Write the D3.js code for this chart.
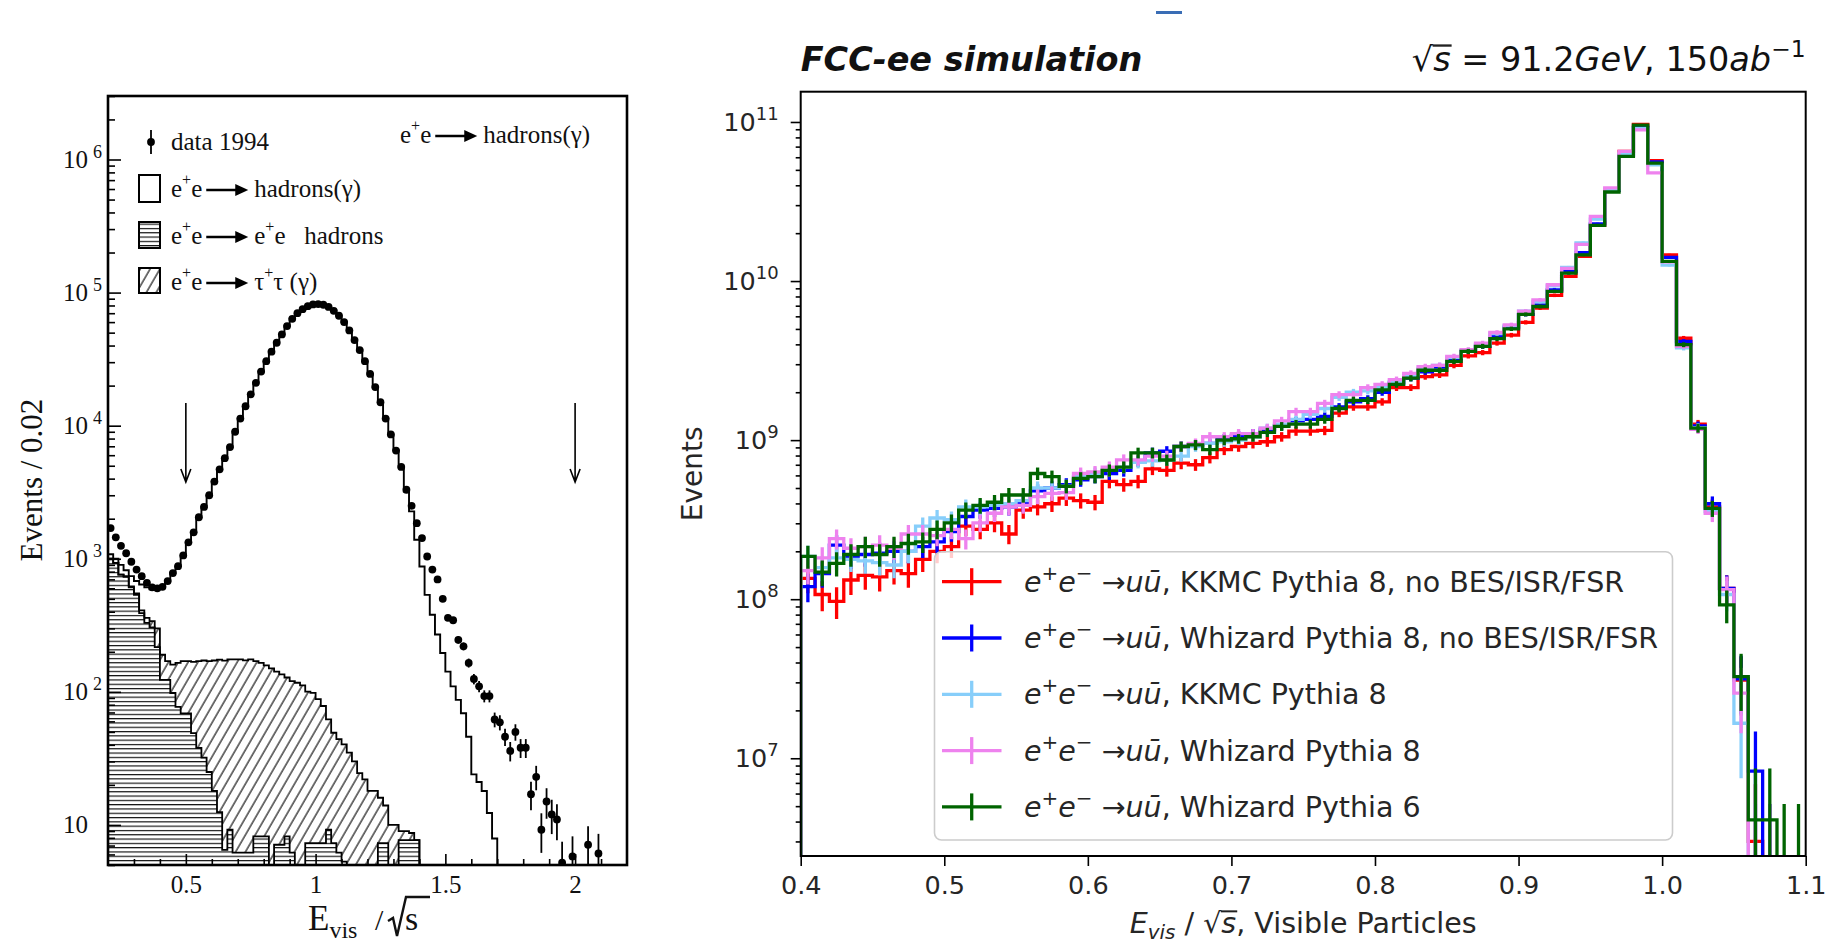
<!DOCTYPE html>
<html>
<head>
<meta charset="utf-8">
<script src="https://cdn.jsdelivr.net/npm/d3@7"></script>
<style>
  body { margin: 0; background: #fff; }
  svg { display: block; }
  svg text { white-space: pre; }
  .serif text, text.serif { font-family: "Liberation Serif", "DejaVu Serif", serif; }
  .sans text, text.sans { font-family: "DejaVu Sans", sans-serif; }
</style>
</head>
<body>
<svg id="chart" width="1837" height="947"></svg>
<script>
// ---------- left panel: e+e- -> hadrons, data 1994 (bins of 0.02 from 0.20) ----------
const LEFT_BIN_START = 0.2;
const LEFT_BIN_W = 0.02;

const data1994 = [1700, 1450, 1250, 1100, 950, 830, 740, 660, 610, 600,
  615, 680, 780, 880, 1060, 1330, 1580, 2050, 2450, 3000,
  3800, 4700, 5700, 6900, 9000, 11300, 14000, 17200, 21000, 25500,
  30500, 36000, 42000, 48500, 56000, 63500, 70000, 75000, 79000, 81500,
  82000, 81000, 78000, 73000, 67000, 60000, 52000, 44000, 37000, 30500,
  24500, 19500, 15000, 11300, 8600, 6500, 4900, 3300, 2500, 1850,
  1430, 1040, 830, 700, 500, 360, 345, 246, 220, 165,
  125, 110, 93, 93, 62, 59, 46, 36, 50, 38,
  38, 17, 23, 9.2, 15, 12, 11, 5.2, null, 5.8,
  null, null, 7.1, null, 6.1];

const mcHadrons = [1080, 1000, 900, 820, 740, 680, 640, 610, 590, 590,
  610, 680, 780, 880, 1060, 1330, 1580, 2050, 2450, 3000,
  3800, 4700, 5700, 6900, 9000, 11300, 14000, 17200, 21000, 25500,
  30500, 36000, 42000, 48500, 56000, 63500, 70000, 75000, 79000, 81500,
  82000, 81000, 78000, 73000, 67000, 60000, 52000, 44000, 37000, 30500,
  24500, 19500, 15000, 11300, 8600, 6500, 4900, 3200, 2270, 1390,
  875, 535, 380, 270, 196, 142, 110, 87, 69, 46,
  24, 21, 18, 12.3, 7.9];

const mcTwoPhoton = [1000, 930, 760, 730, 610, 535, 390, 330, 305, 217,
  123, 123, 98, 77, 69, 69, 49, 38, 32, 25,
  18, 12.5, 6.5, 9.2, 6.2, 6.2, 6.2, 6.2, 8.2, 8.2,
  8.2, 0, 7.1, 7.1, 8.2, 6.2, 0, 0, 7.3, 7.3,
  7.3, 7.3, 9.2, 7.3, 6.2, 5.3, 0, 0, 0, 0,
  0, 0, 7.3, 7.3, 0, 0, 7.7, 7.7, 7.7, 7.7];

const mcTauTau = [0, 0, 0, 10, 10, 15, 20, 30, 35, 83,
  67, 47, 62, 88, 101, 101, 119, 132, 140, 145,
  154, 162, 165, 166, 169, 169, 166, 169, 162, 157,
  150, 150, 135, 128, 120, 114, 117, 112, 93, 91,
  81, 71, 53, 42, 38, 35, 35, 30, 24.5, 22,
  18, 18, 8.7, 6.7, 10, 10, 1.3, 1.3, 1, 0];

const cutPositions = [0.5, 2.0];
const leftXMajor = [0.5, 1, 1.5, 2];
const leftYMajor = [10, 1e2, 1e3, 1e4, 1e5, 1e6];

// ---------- right panel: FCC-ee simulation (bins of 0.01 from 0.40) ----------
const RIGHT_BIN_START = 0.4;
const RIGHT_BIN_W = 0.01;
const MC_EVENT_WEIGHT = 5e6;

const kkmcNoIsr = [1.35e8, 1.07e8, 9.7e7, 1.32e8, 1.41e8, 1.38e8, 1.51e8, 1.45e8, 1.78e8, 2.0e8,
  2.14e8, 2.88e8, 2.75e8, 3.02e8, 2.57e8, 3.63e8, 3.8e8, 3.98e8, 4.32e8, 4.17e8,
  4.07e8, 5.5e8, 5.25e8, 5.5e8, 6.6e8, 6.46e8, 7.16e8, 7.0e8, 7.76e8, 8.71e8,
  9.12e8, 9.55e8, 9.77e8, 1.05e9, 1.14e9, 1.14e9, 1.15e9, 1.48e9, 1.62e9, 1.62e9,
  1.74e9, 2.14e9, 2.14e9, 2.51e9, 2.57e9, 2.95e9, 3.39e9, 3.55e9, 4.07e9, 4.57e9,
  5.5e9, 6.76e9, 8.13e9, 1.07e10, 1.43e10, 2.24e10, 3.72e10, 6.53e10, 9.66e10, 5.71e10,
  1.46e10, 4.37e9, 1.26e9, 3.8e8, 1.17e8, 3.1e7, 3.0e6, 0, 0, 0];

const whizardNoIsr = [1.2e8, 1.45e8, 2.19e8, 1.86e8, 1.91e8, 1.95e8, 2.0e8, 2.0e8, 2.14e8, 2.29e8,
  2.66e8, 3.31e8, 3.63e8, 3.72e8, 3.8e8, 3.98e8, 4.79e8, 5.0e8, 5.25e8, 5.62e8,
  5.89e8, 6.17e8, 6.46e8, 7.41e8, 8.32e8, 8.51e8, 9.12e8, 9.33e8, 9.55e8, 1.02e9,
  1.07e9, 1.1e9, 1.16e9, 1.23e9, 1.32e9, 1.35e9, 1.41e9, 1.62e9, 1.74e9, 1.82e9,
  2.0e9, 2.29e9, 2.45e9, 2.69e9, 2.88e9, 3.24e9, 3.63e9, 3.89e9, 4.47e9, 5.13e9,
  6.17e9, 7.08e9, 8.81e9, 1.15e10, 1.51e10, 2.29e10, 3.72e10, 6.17e10, 9.23e10, 5.62e10,
  1.41e10, 4.17e9, 1.23e9, 3.98e8, 1.17e8, 3.16e7, 8.3e6, 2.0e6, 0, 0];

const kkmcP8 = [1.86e8, 1.58e8, 1.82e8, 1.78e8, 1.74e8, 1.7e8, 1.64e8, 2.0e8, 2.88e8, 3.24e8,
  3.16e8, 3.8e8, 3.8e8, 3.89e8, 3.98e8, 4.17e8, 5.0e8, 5.0e8, 5.13e8, 5.89e8,
  6.17e8, 6.46e8, 6.76e8, 7.24e8, 7.41e8, 7.5e8, 7.94e8, 9.12e8, 9.55e8, 9.77e8,
  1.0e9, 1.05e9, 1.19e9, 1.26e9, 1.35e9, 1.45e9, 1.58e9, 1.86e9, 2.0e9, 2.04e9,
  2.14e9, 2.34e9, 2.57e9, 2.82e9, 2.95e9, 3.31e9, 3.67e9, 3.98e9, 4.68e9, 5.25e9,
  6.46e9, 7.41e9, 9.33e9, 1.22e10, 1.74e10, 2.45e10, 3.76e10, 6.31e10, 9.12e10, 5.37e10,
  1.26e10, 3.8e9, 1.2e9, 3.55e8, 1.07e8, 1.66e7, 2.0e6, 0, 0, 0];

const whizardP8 = [1.51e8, 1.82e8, 2.4e8, 2.09e8, 2.14e8, 2.19e8, 2.09e8, 2.57e8, 2.57e8, 2.51e8,
  2.75e8, 2.4e8, 3.02e8, 3.47e8, 3.8e8, 3.89e8, 4.42e8, 4.63e8, 4.68e8, 6.17e8,
  6.31e8, 6.76e8, 7.52e8, 7.52e8, 7.94e8, 7.94e8, 9.12e8, 9.55e8, 1.05e9, 1.05e9,
  1.1e9, 1.1e9, 1.19e9, 1.32e9, 1.51e9, 1.51e9, 1.7e9, 1.93e9, 1.93e9, 2.14e9,
  2.24e9, 2.4e9, 2.63e9, 2.9e9, 2.95e9, 3.36e9, 3.7e9, 4.07e9, 4.75e9, 5.31e9,
  6.46e9, 7.62e9, 9.48e9, 1.2e10, 1.7e10, 2.55e10, 3.85e10, 6.53e10, 8.91e10, 4.79e10,
  1.32e10, 3.89e9, 1.17e9, 3.47e8, 1.15e8, 2.57e7, 2.0e6, 2.0e6, 0, 0];

const whizardP6 = [1.86e8, 1.48e8, 1.68e8, 1.91e8, 2.14e8, 1.91e8, 2.14e8, 2.24e8, 2.29e8, 2.75e8,
  3.02e8, 3.63e8, 3.89e8, 4.07e8, 4.52e8, 4.52e8, 6.17e8, 5.89e8, 5.13e8, 5.75e8,
  5.89e8, 6.46e8, 6.76e8, 8.32e8, 8.32e8, 7.5e8, 9.12e8, 9.33e8, 8.71e8, 1.0e9,
  1.02e9, 1.05e9, 1.12e9, 1.22e9, 1.26e9, 1.26e9, 1.35e9, 1.58e9, 1.78e9, 1.78e9,
  2.07e9, 2.24e9, 2.45e9, 2.75e9, 2.75e9, 3.13e9, 3.61e9, 3.89e9, 4.34e9, 5.01e9,
  6.17e9, 6.92e9, 8.61e9, 1.12e10, 1.46e10, 2.24e10, 3.63e10, 6.08e10, 9.55e10, 5.52e10,
  1.33e10, 3.98e9, 1.19e9, 3.72e8, 9.2e7, 3.26e7, 4.1e6, 4.1e6, 2.0e6, 2.0e6];

const rightSeries = [kkmcNoIsr, whizardNoIsr, kkmcP8, whizardP8, whizardP6];
const seriesColors = ["#ff0000", "#0000ff", "#87cefa", "#ee82ee", "#006400"];
const seriesLabels = [", KKMC Pythia 8, no BES/ISR/FSR", ", Whizard Pythia 8, no BES/ISR/FSR",
  ", KKMC Pythia 8", ", Whizard Pythia 8", ", Whizard Pythia 6"];
const rightXTicks = [0.4, 0.5, 0.6, 0.7, 0.8, 0.9, 1.0, 1.1];
const rightYMajor = [1e7, 1e8, 1e9, 1e10, 1e11];

// ---------- helpers ----------
const svg = d3.select("#chart");
const defs = svg.append("defs");

defs.append("pattern").attr("id", "hatchH").attr("patternUnits", "userSpaceOnUse")
  .attr("width", 10).attr("height", 4.3)
  .append("line").attr("x1", 0).attr("x2", 10).attr("y1", 0.6).attr("y2", 0.6)
  .attr("stroke", "#000").attr("stroke-width", 1.1);
defs.append("pattern").attr("id", "hatchD").attr("patternUnits", "userSpaceOnUse")
  .attr("width", 8.5).attr("height", 10).attr("patternTransform", "rotate(30)")
  .append("line").attr("x1", 1).attr("x2", 1).attr("y1", 0).attr("y2", 10)
  .attr("stroke", "#000").attr("stroke-width", 1.1);

const stepPoints = (values, start, width, x, y, floor) => {
  const pts = [[x(start), floor]];
  values.forEach((v, i) => {
    const yy = v > 0 ? Math.min(y(v), floor) : floor;
    pts.push([x(start + i * width), yy], [x(start + (i + 1) * width), yy]);
  });
  pts.push([x(start + values.length * width), floor]);
  return pts;
};
const line = d3.line();

function richText(sel, parts, fs) {
  let shift = 0;
  parts.forEach(p => {
    const target = p.sup ? -0.42 * fs : p.sub ? 0.22 * fs : 0;
    sel.append("tspan")
      .attr("dy", target - shift)
      .attr("font-size", (p.sup || p.sub) ? fs * 0.7 : fs)
      .attr("font-style", p.it ? "italic" : "normal")
      .text(p.t);
    shift = target;
  });
}
// overline above the char following a radical sign
function radicalBar(textSel, parent, fs) {
  const node = textSel.node();
  const str = node.textContent;
  const i = str.indexOf("√");
  const a = node.getStartPositionOfChar(i + 1);
  const b = node.getEndPositionOfChar(i + 1);
  const base = node.getStartPositionOfChar(i).y;
  parent.append("line")
    .attr("x1", a.x - 0.5).attr("x2", b.x + 1)
    .attr("y1", base - 0.76 * fs).attr("y2", base - 0.76 * fs)
    .attr("stroke", "#222").attr("stroke-width", fs * 0.07);
}

// ---------- left panel ----------
const L = {x0: 108, x1: 627, y0: 96, y1: 865};
const xL = d3.scaleLinear([0.2, 2.2], [L.x0, L.x1]);
const yL = d3.scaleLog([5, 3e6], [L.y1, L.y0]);
const gL = svg.append("g").attr("class", "serif");

defs.append("clipPath").attr("id", "clipL").append("rect")
  .attr("x", L.x0).attr("y", L.y0).attr("width", L.x1 - L.x0).attr("height", L.y1 - L.y0);
const plotL = gL.append("g").attr("clip-path", "url(#clipL)");
const floorL = L.y1 + 5;

const stacked = mcTwoPhoton.map((v, i) => v + mcTauTau[i]);
const twoTop = stepPoints(mcTwoPhoton, LEFT_BIN_START, LEFT_BIN_W, xL, yL, floorL);
const stackTop = stepPoints(stacked, LEFT_BIN_START, LEFT_BIN_W, xL, yL, floorL);

plotL.append("path").attr("d", line(twoTop) + "Z").attr("fill", "url(#hatchH)");
plotL.append("path").attr("d", line(stackTop.concat(twoTop.slice().reverse())) + "Z")
  .attr("fill", "url(#hatchD)");
plotL.append("path").attr("d", line(twoTop)).attr("fill", "none").attr("stroke", "#000").attr("stroke-width", 1.8);
plotL.append("path").attr("d", line(stackTop)).attr("fill", "none").attr("stroke", "#000").attr("stroke-width", 1.8);
plotL.append("path").attr("d", line(stepPoints(mcHadrons, LEFT_BIN_START, LEFT_BIN_W, xL, yL, floorL)))
  .attr("fill", "none").attr("stroke", "#000").attr("stroke-width", 1.9);

const pts = data1994.map((v, i) => ({x: LEFT_BIN_START + (i + 0.5) * LEFT_BIN_W, v})).filter(d => d.v);
plotL.selectAll("line.err").data(pts).join("line").attr("class", "err")
  .attr("x1", d => xL(d.x)).attr("x2", d => xL(d.x))
  .attr("y1", d => d.v - Math.sqrt(d.v) > 0 ? Math.min(yL(d.v - Math.sqrt(d.v)), floorL) : floorL)
  .attr("y2", d => yL(d.v + Math.sqrt(d.v)))
  .attr("stroke", "#000").attr("stroke-width", 1.8);
plotL.selectAll("circle").data(pts).join("circle")
  .attr("cx", d => xL(d.x)).attr("cy", d => yL(d.v)).attr("r", 3.9).attr("fill", "#000");

// cut arrows
cutPositions.forEach(c => {
  const x = xL(c);
  gL.append("path").attr("d", `M${x},403 L${x},482 M${x - 5},469 L${x},482 L${x + 5},469`)
    .attr("fill", "none").attr("stroke", "#000").attr("stroke-width", 1.6);
});

// axes (ticks inside)
const xMinorL = d3.range(3, 22).map(d => d / 10).filter(d => !leftXMajor.includes(d));
gL.append("g").attr("transform", `translate(0,${L.y1})`)
  .call(d3.axisBottom(xL).tickValues(xMinorL).tickSize(-6).tickFormat(""))
  .call(a => a.select(".domain").remove());
gL.append("g").attr("transform", `translate(0,${L.y1})`)
  .call(d3.axisBottom(xL).tickValues(leftXMajor).tickSize(-11).tickPadding(10).tickFormat(d3.format("~g")))
  .call(a => a.select(".domain").remove())
  .call(a => a.selectAll("text").attr("font-size", 25).attr("fill", "#111"));

const yMinorL = [];
[1, 10, 100, 1e3, 1e4, 1e5, 1e6].forEach(dec => [2, 3, 4, 5, 6, 7, 8, 9].forEach(m => {
  const v = m * dec;
  if (v >= 5 && v <= 3e6) yMinorL.push(v);
}));
gL.append("g").attr("transform", `translate(${L.x0},0)`)
  .call(d3.axisLeft(yL).tickValues(yMinorL).tickSize(-7).tickFormat(""))
  .call(a => a.select(".domain").remove());
gL.append("g").attr("transform", `translate(${L.x0},0)`)
  .call(d3.axisLeft(yL).tickValues(leftYMajor).tickSize(-13).tickFormat(""))
  .call(a => a.select(".domain").remove())
  .call(a => a.selectAll(".tick").each(function (d) {
    const e = Math.round(Math.log10(d));
    const t = d3.select(this).append("text").attr("x", -45).attr("dy", "0.32em")
      .attr("text-anchor", "start").attr("font-size", 25).attr("fill", "#111");
    t.append("tspan").text("10");
    if (e > 1) t.append("tspan").attr("dx", 5).attr("dy", -10).attr("font-size", 18).text(e);
  }));
gL.selectAll(".tick line").attr("stroke", "#000").attr("stroke-width", 1.6);

gL.append("rect").attr("x", L.x0).attr("y", L.y0).attr("width", L.x1 - L.x0).attr("height", L.y1 - L.y0)
  .attr("fill", "none").attr("stroke", "#000").attr("stroke-width", 2.6);

// axis titles
gL.append("text").attr("transform", "translate(42,480) rotate(-90)").attr("text-anchor", "middle")
  .attr("font-size", 31).attr("fill", "#111").text("Events / 0.02");
const xt = gL.append("text").attr("x", 308).attr("y", 930).attr("font-size", 35).attr("fill", "#111");
xt.append("tspan").text("E");
xt.append("tspan").attr("font-size", 24).attr("dy", 8).text("vis");
gL.append("text").attr("x", 375).attr("y", 930).attr("font-size", 30).attr("fill", "#111").text("/");
gL.append("path").attr("d", "M388,921 L393,918 L397,936 L406,897 L430,897")
  .attr("fill", "none").attr("stroke", "#111").attr("stroke-width", 2.4);
gL.append("text").attr("x", 405).attr("y", 930).attr("font-size", 34).attr("fill", "#111").text("s");

// legend and process labels
function arrowTo(g, x1, x2, y) {
  g.append("line").attr("x1", x1).attr("x2", x2 - 10).attr("y1", y).attr("y2", y)
    .attr("stroke", "#000").attr("stroke-width", 2.6);
  g.append("path").attr("d", `M${x2 - 13},${y - 6} L${x2},${y} L${x2 - 13},${y + 6}Z`).attr("fill", "#000");
}
function serifLabel(g, x, y, pieces) {
  let cx = x;
  pieces.forEach(p => {
    if (p.arrow) { arrowTo(g, cx + 2, cx + p.arrow, y - 7); cx += p.arrow + 6; return; }
    const t = g.append("text").attr("x", cx).attr("y", p.sup ? y - 12 : y)
      .attr("font-size", p.sup ? 16 : 25).attr("fill", "#111").text(p.t);
    cx += t.node().getComputedTextLength() + (p.gap || 0);
  });
}
const eePlus = [{t: "e"}, {t: "+", sup: true}, {t: "e", gap: 2}];

gL.append("line").attr("x1", 151).attr("x2", 151).attr("y1", 130).attr("y2", 154).attr("stroke", "#000").attr("stroke-width", 1.8);
gL.append("circle").attr("cx", 151).attr("cy", 142).attr("r", 3.9).attr("fill", "#000");
gL.append("text").attr("x", 171).attr("y", 150).attr("font-size", 25).attr("fill", "#111").text("data 1994");

gL.append("rect").attr("x", 139).attr("y", 175).attr("width", 21).attr("height", 27).attr("fill", "#fff").attr("stroke", "#000").attr("stroke-width", 2);
serifLabel(gL, 171, 197, [...eePlus, {arrow: 44}, {t: "hadrons(γ)"}]);
gL.append("rect").attr("x", 139).attr("y", 222).attr("width", 21).attr("height", 26).attr("fill", "url(#hatchH)").attr("stroke", "#000").attr("stroke-width", 2);
serifLabel(gL, 171, 244, [...eePlus, {arrow: 44}, {t: "e"}, {t: "+", sup: true}, {t: "e   hadrons"}]);
gL.append("rect").attr("x", 139).attr("y", 268).attr("width", 21).attr("height", 25).attr("fill", "url(#hatchD)").attr("stroke", "#000").attr("stroke-width", 2);
serifLabel(gL, 171, 290, [...eePlus, {arrow: 44}, {t: "τ"}, {t: "+", sup: true}, {t: "τ (γ)"}]);
serifLabel(gL, 400, 143, [...eePlus, {arrow: 44}, {t: "hadrons(γ)"}]);

// ---------- right panel ----------
const R = {x0: 800.7, x1: 1805.7, y0: 91.7, y1: 856};
const xR = d3.scaleLinear([0.4, 1.1], [R.x0, R.x1]);
const yR = d3.scaleLog([2.43e6, 1.55e11], [R.y1, R.y0]);
const gR = svg.append("g").attr("class", "sans");

defs.append("clipPath").attr("id", "clipR").append("rect")
  .attr("x", R.x0).attr("y", R.y0).attr("width", R.x1 - R.x0).attr("height", R.y1 - R.y0);
const plotR = gR.append("g").attr("clip-path", "url(#clipR)");
const floorR = R.y1 + 20;

rightSeries.forEach((vals, s) => {
  const col = seriesColors[s];
  plotR.append("path").attr("d", line(stepPoints(vals, RIGHT_BIN_START, RIGHT_BIN_W, xR, yR, floorR)))
    .attr("fill", "none").attr("stroke", col).attr("stroke-width", 3.3).attr("stroke-linejoin", "miter");
  const bars = vals.map((v, i) => ({x: RIGHT_BIN_START + (i + 0.5) * RIGHT_BIN_W, v})).filter(d => d.v > 0);
  plotR.append("g").selectAll("line").data(bars).join("line")
    .attr("x1", d => xR(d.x)).attr("x2", d => xR(d.x))
    .attr("y1", d => {
      const lo = d.v - Math.sqrt(d.v * MC_EVENT_WEIGHT);
      return lo > 0 ? Math.min(yR(lo), floorR) : floorR;
    })
    .attr("y2", d => yR(d.v + Math.sqrt(d.v * MC_EVENT_WEIGHT)))
    .attr("stroke", col).attr("stroke-width", 3.3);
});

// legend
const LEG = {x: 934.5, y: 551.7, w: 738, h: 288.3, row0: 581.7, dy: 56.3};
gR.append("rect").attr("x", LEG.x).attr("y", LEG.y).attr("width", LEG.w).attr("height", LEG.h)
  .attr("rx", 7).attr("fill", "#fff").attr("fill-opacity", 0.8).attr("stroke", "#cccccc").attr("stroke-width", 1.6);
seriesLabels.forEach((lab, i) => {
  const cy = LEG.row0 + i * LEG.dy;
  gR.append("line").attr("x1", 942).attr("x2", 1001.5).attr("y1", cy).attr("y2", cy)
    .attr("stroke", seriesColors[i]).attr("stroke-width", 3.3);
  gR.append("line").attr("x1", 971.7).attr("x2", 971.7).attr("y1", cy - 13.5).attr("y2", cy + 13.5)
    .attr("stroke", seriesColors[i]).attr("stroke-width", 3.3);
  const t = gR.append("text").attr("x", 1024).attr("y", cy + 10).attr("fill", "#262626");
  richText(t, [{t: "e", it: true}, {t: "+", sup: true}, {t: "e", it: true}, {t: "−", sup: true},
    {t: " →"}, {t: "uū", it: true}, {t: lab}], 28.5);
});

// axes (ticks outside)
gR.append("g").attr("transform", `translate(0,${R.y1})`)
  .call(d3.axisBottom(xR).tickValues(rightXTicks).tickSize(10).tickPadding(10).tickFormat(d3.format(".1f")))
  .call(a => a.select(".domain").remove())
  .call(a => a.selectAll("text").attr("font-size", 25.5).attr("fill", "#262626"));
const yMinorR = [];
[1e6, 1e7, 1e8, 1e9, 1e10, 1e11].forEach(dec => [2, 3, 4, 5, 6, 7, 8, 9].forEach(m => {
  const v = m * dec;
  if (v >= 2.43e6 && v <= 1.55e11) yMinorR.push(v);
}));
gR.append("g").attr("transform", `translate(${R.x0},0)`)
  .call(d3.axisLeft(yR).tickValues(yMinorR).tickSize(5).tickFormat(""))
  .call(a => a.select(".domain").remove());
gR.append("g").attr("transform", `translate(${R.x0},0)`)
  .call(d3.axisLeft(yR).tickValues(rightYMajor).tickSize(10).tickFormat(""))
  .call(a => a.select(".domain").remove())
  .call(a => a.selectAll(".tick").each(function (d) {
    const e = Math.round(Math.log10(d));
    const t = d3.select(this).append("text").attr("x", -22).attr("dy", "0.32em")
      .attr("text-anchor", "end").attr("font-size", 25.5).attr("fill", "#262626");
    t.append("tspan").text("10");
    t.append("tspan").attr("dy", -11).attr("font-size", 18).text(e);
  }));
gR.selectAll(".tick line").attr("stroke", "#000").attr("stroke-width", 1.6);

gR.append("rect").attr("x", R.x0).attr("y", R.y0).attr("width", R.x1 - R.x0).attr("height", R.y1 - R.y0)
  .attr("fill", "none").attr("stroke", "#000").attr("stroke-width", 2);

gR.append("text").attr("transform", `translate(702,${(R.y0 + R.y1) / 2}) rotate(-90)`).attr("text-anchor", "middle")
  .attr("font-size", 28).attr("fill", "#262626").text("Events");

const xlab = gR.append("text").attr("x", (R.x0 + R.x1) / 2).attr("y", 933).attr("text-anchor", "middle").attr("fill", "#262626");
richText(xlab, [{t: "E", it: true}, {t: "vis", it: true, sub: true}, {t: " / √"}, {t: "s", it: true},
  {t: ", Visible Particles"}], 28.5);
radicalBar(xlab, gR, 28.5);

gR.append("text").attr("x", R.x0).attr("y", 71).attr("font-size", 33.5)
  .attr("font-weight", "bold").attr("font-style", "italic").attr("fill", "#111").text("FCC-ee simulation");
const energy = gR.append("text").attr("x", R.x1).attr("y", 71).attr("text-anchor", "end").attr("fill", "#111");
richText(energy, [{t: "√"}, {t: "s", it: true}, {t: " = 91.2"}, {t: "GeV", it: true}, {t: ", 150"},
  {t: "ab", it: true}, {t: "−1", sup: true}], 33.5);
radicalBar(energy, gR, 33.5);

// small blue mark at the top of the page
svg.append("rect").attr("x", 1156).attr("y", 11).attr("width", 26).attr("height", 3).attr("fill", "#3a6db5");
</script>
</body>
</html>
